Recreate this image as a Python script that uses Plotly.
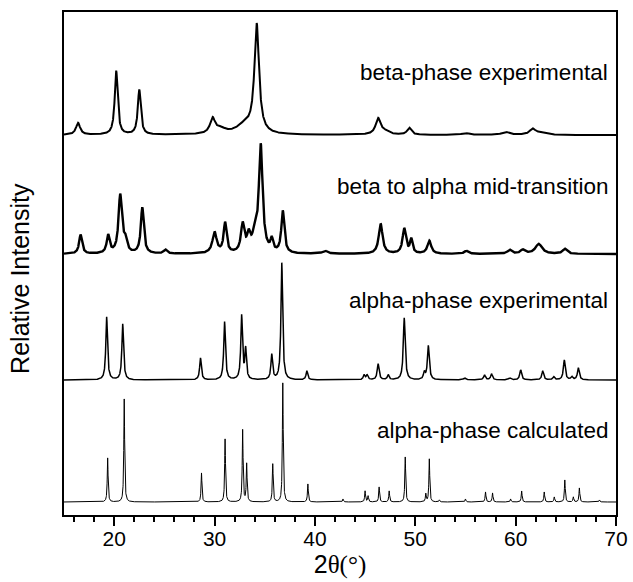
import numpy as np
import plotly.graph_objects as go

# ---- data (2θ in degrees, heights in relative units) ----
beta_pos = [16.4, 20.2, 22.5, 29.8, 30.6, 33.0, 34.2, 46.3, 47.0, 49.4, 55.0, 59.0, 61.7, 62.5]
beta_hgt = [12, 64, 45, 15, 5, 9, 108, 16, 3, 7, 2, 3, 6, 2]
beta_wid = [0.5, 0.35, 0.35, 0.6, 1.2, 2.0, 0.55, 0.6, 1.0, 0.5, 0.8, 0.8, 0.7, 1.0]

mid_pos = [16.65, 19.4, 20.6, 21.1, 22.8, 25.1, 30.0, 31.05, 32.8, 33.4, 34.0, 34.6, 35.7, 36.8,
           41.0, 46.55, 48.9, 49.6, 51.4, 55.1, 59.4, 60.7, 62.3, 64.9]
mid_hgt = [19, 18, 58, 12, 46, 4, 21, 30, 28, 16, 16, 107, 12, 42,
           3, 30, 25, 14, 13, 3, 4, 4, 10, 5]
mid_wid = [0.35, 0.35, 0.4, 0.4, 0.35, 0.4, 0.5, 0.35, 0.4, 0.4, 0.5, 0.45, 0.3, 0.35,
           0.6, 0.45, 0.4, 0.3, 0.45, 0.5, 0.5, 0.5, 0.8, 0.5]

aexp_pos = [19.25, 20.85, 28.6, 31.0, 32.7, 33.1, 35.7, 36.7, 39.2, 44.9, 45.2, 46.3, 47.3, 48.9,
            50.9, 51.3, 54.9, 56.9, 57.6, 59.4, 60.5, 62.7, 63.8, 64.85, 65.6, 66.25]
aexp_hgt = [63, 56, 22, 58, 64, 30, 25, 117, 9, 5, 5, 16, 5, 62,
            7, 34, 2, 5, 6, 2, 10, 9, 3, 20, 3, 12]
aexp_wid = [0.2, 0.2, 0.2, 0.2, 0.2, 0.18, 0.2, 0.2, 0.2, 0.2, 0.2, 0.22, 0.2, 0.22,
            0.2, 0.22, 0.3, 0.22, 0.22, 0.3, 0.22, 0.22, 0.22, 0.22, 0.22, 0.22]

calc_pos = [19.35, 21.0, 28.7, 31.05, 32.8, 33.2, 35.8, 36.8, 39.3, 42.8, 45.0, 45.3, 46.4, 47.4,
            49.0, 51.05, 51.4, 52.4, 55.0, 57.0, 57.7, 59.5, 60.6, 62.85, 63.85, 64.9, 65.75,
            66.35, 68.35]
calc_hgt = [44, 103, 29, 63, 72, 38, 38, 119, 18, 3, 11, 6, 15, 11,
            45, 8, 43, 2, 3, 10, 9, 3, 11, 10, 5, 22, 5, 14, 2]
calc_wid = [0.1] * 29

trace_names = ["beta-phase experimental", "beta to alpha mid-transition",
               "alpha-phase experimental", "alpha-phase calculated"]
offsets = [367, 248, 122, 0]
x_ticks = [20, 30, 40, 50, 60, 70]

two_theta = np.linspace(15, 70, 5501)


def profile(pos, hgt, wid):
    y = np.zeros_like(two_theta)
    for p, h, w in zip(pos, hgt, wid):
        y += h / (1.0 + ((two_theta - p) / (w / 2.0)) ** 2)
    return y


series = [
    (beta_pos, beta_hgt, beta_wid, 2.0),
    (mid_pos, mid_hgt, mid_wid, 2.4),
    (aexp_pos, aexp_hgt, aexp_wid, 1.5),
    (calc_pos, calc_hgt, calc_wid, 1.0),
]

fig = go.Figure()
for (p, h, w, lw), off, name in zip(series, offsets, trace_names):
    fig.add_trace(go.Scatter(x=two_theta, y=profile(p, h, w) + off, mode="lines",
                             line=dict(color="black", width=lw), name=name,
                             showlegend=False, hoverinfo="skip"))

label_y = [430, 316, 202, 72]
for name, ly in zip(trace_names, label_y):
    fig.add_annotation(x=70, y=ly, xref="x", yref="y", text=name, showarrow=False,
                       xanchor="right", yanchor="middle", xshift=-6,
                       font=dict(family="Liberation Sans, Arial, sans-serif", size=22.5,
                                 color="black"))

fig.add_annotation(x=-0.081, y=0.47, xref="paper", yref="paper", text="Relative Intensity",
                   textangle=-90, showarrow=False, xanchor="center", yanchor="middle",
                   font=dict(family="Liberation Sans, Arial, sans-serif", size=25,
                             color="black"))

fig.update_layout(
    width=633, height=582,
    margin=dict(l=64, r=17, t=12, b=67, autoexpand=False),
    paper_bgcolor="white", plot_bgcolor="white",
    font=dict(family="Liberation Sans, Arial, sans-serif", color="black"),
    xaxis=dict(
        range=[15, 70], tickvals=x_ticks, ticktext=[str(v) for v in x_ticks],
        ticks="outside", ticklen=9, tickwidth=1.5, tickcolor="black",
        ticklabelstandoff=-5,
        minor=dict(dtick=2, tick0=0, ticks="outside", ticklen=5, tickwidth=1.5,
                   tickcolor="black", showgrid=False),
        showline=True, linecolor="black", linewidth=2, mirror=True,
        showgrid=False, zeroline=False, automargin=False,
        tickfont=dict(size=21, color="black"),
        title=dict(text="2<span style=\"font-family:'Liberation Serif'\">θ(°)</span>",
                   font=dict(size=25, color="black"), standoff=4),
    ),
    yaxis=dict(
        range=[-13, 490], showticklabels=False, ticks="",
        showline=True, linecolor="black", linewidth=2, mirror=True,
        showgrid=False, zeroline=False, automargin=False,
    ),
)

fig.write_html("out.html", config={"displayModeBar": False},
               post_script="document.body.style.margin='0px';"
                           "document.body.style.overflow='hidden';")
